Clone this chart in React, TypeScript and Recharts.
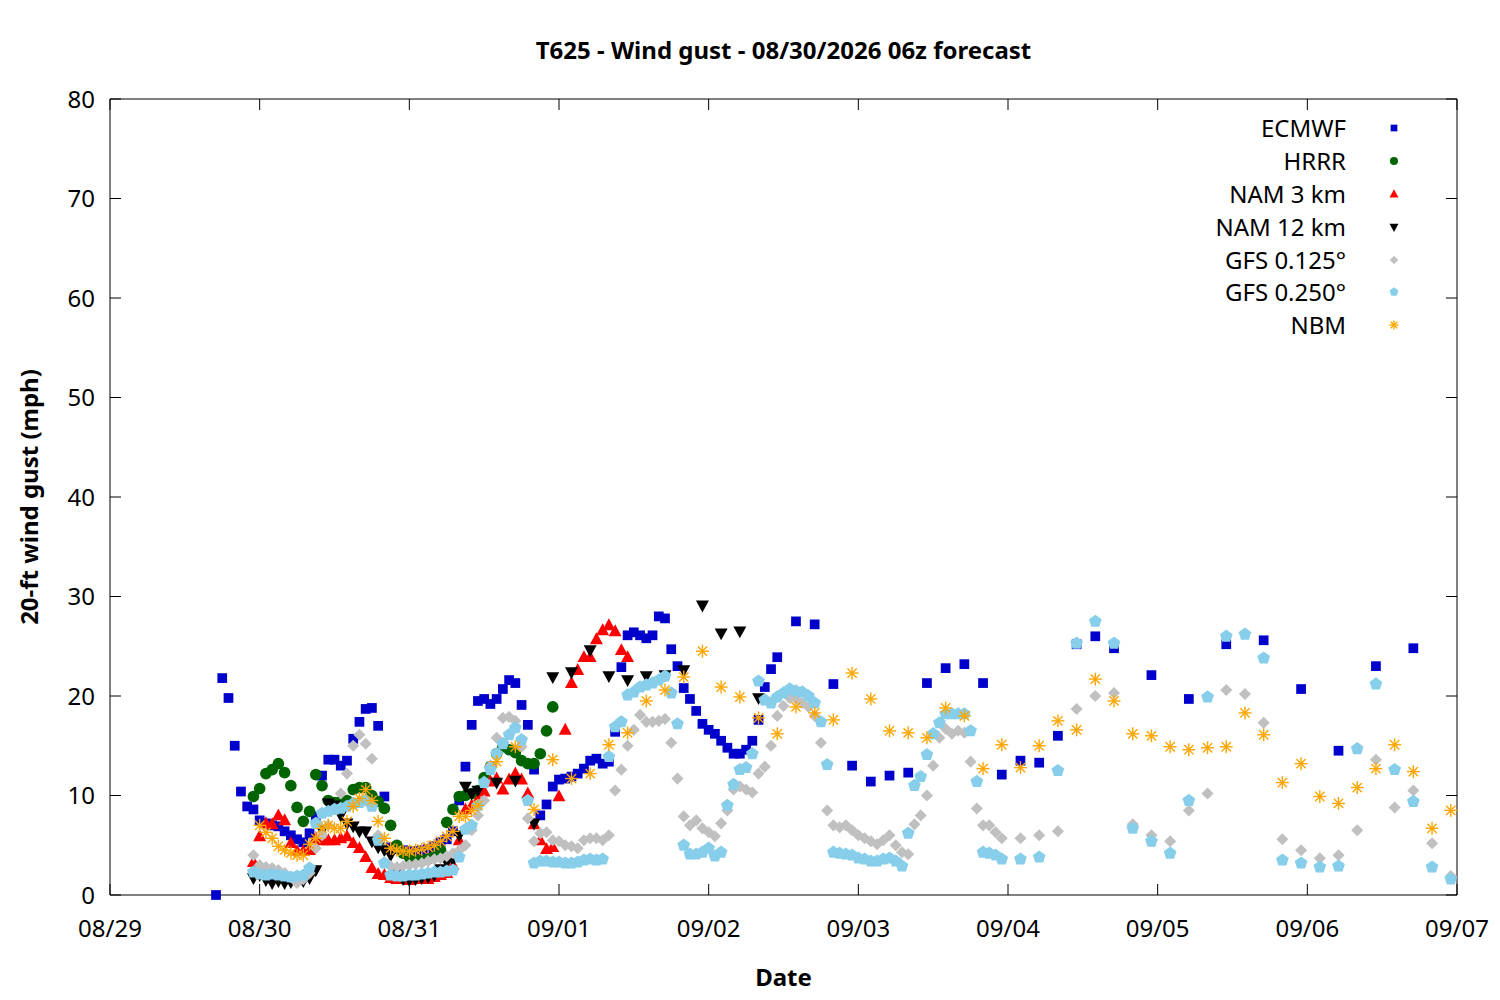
import { ScatterChart, Scatter, XAxis, YAxis, ReferenceLine } from 'recharts';

// hours are counted from 08/29 00z; each block is [first hour, step, values]
const dayLabels = ['08/29', '08/30', '08/31', '09/01', '09/02', '09/03', '09/04', '09/05', '09/06', '09/07'];
const dayTicks = [0, 24, 48, 72, 96, 120, 144, 168, 192, 216];
const gustTicks = [0, 10, 20, 30, 40, 50, 60, 70, 80];

const ecmwfHourly = [
  0, 21.8, 19.8, 15.0, 10.4, 8.9, 8.6, 7.5, 7.2, 7.0, 6.9, 6.4, 6.0, 5.6, 5.3, 6.2, 7.9, 12.0, 13.6, 13.6,
  13.0, 13.5, 15.7, 17.4, 18.7, 18.8, 17.0, 9.9, 4.8, 4.6, 4.5, 4.4, 4.4, 4.5, 4.6, 4.9, 5.3, 5.6, 6.4, 9.5,
  12.9, 17.1, 19.5, 19.7, 19.2, 19.7, 20.7, 21.6, 21.3, 19.1, 17.1, 12.6, 8.0, 9.1, 10.9, 11.6, 11.7, 11.9, 12.2, 12.7,
  13.5, 13.7, 13.2, 13.4, 16.4, 22.9, 26.1, 26.4, 26.1, 25.8, 26.1, 28.0, 27.8, 24.7, 23.0, 20.8, 19.7, 18.5, 17.2, 16.6,
  16.2, 15.5, 14.8, 14.2, 14.2, 14.6, 15.5, 17.6, 20.9, 22.7, 23.9,
];
const ecmwf3h = [27.5, 27.2, 21.2, 13.0, 11.4, 12.0, 12.3, 21.3, 22.8, 23.2, 21.3, 12.1, 13.5, 13.3, 16.0, 25.2, 26.0, 24.8];
const ecmwf6h = [22.1, 19.7, 25.2, 25.6, 20.7, 14.5, 23.0, 24.8];

const hrrrHourly = [
  9.9, 10.7, 12.2, 12.6, 13.2, 12.3, 11.0, 8.8, 7.4, 8.4, 12.1, 11.0, 9.5, 9.3, 9.4, 9.5, 10.6, 10.8, 10.8, 10.0,
  9.4, 8.7, 7.0, 5.0, 4.2, 3.8, 3.5, 3.5, 3.6, 3.9, 4.5, 7.3, 8.6, 9.9, 10.0, 10.2, 10.5, 11.8, 12.9, 14.2,
  14.9, 14.6, 14.3, 13.5, 13.2, 13.2, 14.2, 16.5, 18.9,
];

const nam3Hourly = [
  3.3, 5.9, 7.2, 7.1, 8.0, 7.5, 5.2, 4.4, 4.4, 4.5, 5.7, 5.5, 5.5, 5.5, 5.7, 5.9, 5.2, 4.7, 3.8, 2.7,
  2.1, 2.0, 1.7, 1.6, 1.6, 1.5, 1.6, 1.7, 1.6, 1.8, 2.0, 2.2, 3.0, 5.5, 8.6, 9.0, 9.6, 10.4, 11.4, 11.7,
  10.6, 11.6, 12.2, 11.6, 10.2, 7.1, 5.5, 4.6, 4.8, 9.9, 16.6, 21.3, 22.6, 23.9, 23.9, 25.7, 26.6, 27.1, 26.5, 24.6,
  23.9,
];

const nam12Hourly = [
  1.7, 2.0, 1.5, 1.2, 1.4, 1.2, 1.3, 1.5, 1.4, 1.7, 2.5, 6.5, 9.2, 9.0, 8.0, 7.2, 6.9, 6.4, 6.4, 5.4,
  4.8, 4.5, 4.0, 2.5, 1.6, 1.5, 1.6, 1.7, 1.8, 2.0, 2.6, 3.3, 3.5, 6.0, 10.9, 10.2, 10.5,
];
const nam12_3h = [11.3, 11.5, 7.2, 21.9, 22.4, 24.6, 22.0, 21.6, 22.0, 22.1, 22.6, 29.1, 26.3, 26.5, 19.8];

const gfs125Hourly = [
  4.0, 3.0, 2.8, 2.7, 2.5, 2.2, 1.8, 1.2, 1.6, 2.2, 4.7, 6.0, 7.0, 8.6, 10.2, 12.2, 15.0, 16.1, 15.2, 13.7,
  6.0, 3.3, 2.9, 2.8, 2.9, 3.0, 3.1, 3.2, 3.4, 3.6, 3.7, 3.9, 4.2, 4.5, 5.0, 6.5, 8.0, 9.5, 13.0, 15.8,
  17.8, 17.9, 17.5, 14.9, 7.7, 5.4, 6.2, 6.3, 5.5, 5.4, 5.0, 4.9, 4.7, 5.5, 5.7, 5.7, 5.5, 6.0, 10.5, 12.6,
  15.0, 16.6, 18.1, 17.4, 17.4, 17.5, 17.7, 15.3, 11.7, 7.9, 7.0, 7.5, 6.7, 6.3, 5.9, 7.2, 8.5, 10.6, 10.9, 10.6,
  10.3, 12.2, 12.9, 15.0, 18.0, 19.0, 19.8, 19.7, 19.3, 18.9, 18.0, 15.3, 8.5, 7.0, 6.8, 7.0, 6.5, 6.0, 5.7, 5.4,
  5.1, 5.5, 6.0, 5.0, 4.3, 4.1, 7.1, 8.0, 10.0, 13.0, 15.8, 16.7, 16.2, 16.5, 16.3, 13.4, 8.7, 7.0, 7.0, 6.3,
  5.7,
];
const gfs125_3h = [
  5.7, 6.0, 6.4, 18.7, 20.0, 20.3, 7.1, 6.0, 5.4, 8.5, 10.2, 20.6, 20.2, 17.3, 5.6, 4.5, 3.7, 4.0, 6.5, 13.6,
  8.8, 10.5, 5.2, 1.9,
];

const gfs250Hourly = [
  2.3, 2.1, 2.0, 2.1, 2.0, 1.9, 1.8, 1.9, 2.0, 2.7, 7.2, 8.2, 8.4, 8.6, 8.7, 8.9, 9.2, 9.3, 9.5, 8.9,
  5.5, 3.2, 2.0, 1.9, 1.9, 2.0, 2.0, 2.1, 2.2, 2.3, 2.3, 2.4, 2.5, 3.8, 6.6, 7.0, 9.0, 11.3, 12.6, 14.2,
  15.2, 16.1, 16.8, 15.6, 9.5, 3.2, 3.4, 3.4, 3.3, 3.3, 3.2, 3.2, 3.3, 3.5, 3.6, 3.5, 3.6, 13.9, 16.9, 17.4,
  20.1, 20.4, 20.9, 21.1, 21.3, 21.6, 22.0, 20.3, 17.2, 5.0, 4.1, 4.1, 4.3, 4.7, 3.9, 4.3, 9.0, 11.1, 12.6, 12.8,
  14.2, 21.5, 19.6, 19.3, 19.9, 20.3, 20.7, 20.5, 20.4, 20.0, 19.3, 17.4, 13.1, 4.3, 4.2, 4.1, 4.0, 3.7, 3.6, 3.4,
  3.4, 3.6, 3.7, 3.4, 2.9, 6.2, 11.0, 11.9, 14.1, 16.2, 17.3, 18.2, 18.2, 18.2, 18.2, 16.5, 11.4, 4.3, 4.2, 4.0,
  3.6,
];
const gfs250_3h = [
  3.6, 3.8, 12.5, 25.3, 27.5, 25.3, 6.7, 5.4, 4.2, 9.5, 19.9, 26.0, 26.2, 23.8, 3.5, 3.2, 2.8, 2.9, 14.7, 21.2,
  12.6, 9.4, 2.8, 1.6,
];

const nbmHourly = [
  7.0, 6.3, 5.7, 4.9, 4.5, 4.2, 4.0, 4.0, 5.1, 5.7, 6.7, 7.0, 6.7, 6.7, 7.4, 8.9, 9.7, 10.6, 9.5, 7.4,
  5.7, 4.7, 4.5, 4.4, 4.4, 4.5, 4.6, 4.8, 5.0, 5.4, 5.9, 6.4, 7.9, 7.9, 8.5,
];
const nbm3h = [
  9.0, 13.4, 14.9, 8.6, 13.6, 11.7, 12.2, 15.1, 16.3, 19.5, 20.6, 21.9, 24.5, 20.9, 19.9, 17.8, 16.2, 18.9, 18.3, 17.6,
  22.3, 19.7, 16.5, 16.3, 15.8, 18.8, 18.0, 12.7, 15.1, 12.8, 15.0, 17.5, 16.6, 21.7, 19.5, 16.2, 16.0, 14.9, 14.6, 14.8,
  14.9, 18.3, 16.1, 11.3, 13.2, 9.9, 9.2, 10.8, 12.7, 15.1, 12.4, 6.7, 8.5,
];

type Pt = { h: number; v: number };
const block = (start: number, step: number, values: number[]): Pt[] =>
  values.map((v, i) => ({ h: start + i * step, v }));

const ecmwfData = [...block(17, 1, ecmwfHourly), ...block(110, 3, ecmwf3h), ...block(167, 6, ecmwf6h)];
const hrrrData = block(23, 1, hrrrHourly);
const nam3Data = block(23, 1, nam3Hourly);
const nam12Data = [...block(23, 1, nam12Hourly), ...block(62, 3, nam12_3h)];
const gfs125Data = [...block(23, 1, gfs125Hourly), ...block(146, 3, gfs125_3h)];
const gfs250Data = [...block(23, 1, gfs250Hourly), ...block(146, 3, gfs250_3h)];
const nbmData = [...block(24, 1, nbmHourly), ...block(59, 3, nbm3h)];

const FONT = '"Noto Sans", sans-serif';
const FS = 24;
const PLOT = { left: 110, right: 1457, top: 99, bottom: 895 };
const TICK = 11;

// marker drawers, sized for the plot (k ~ 1) or the legend (k < 1)
type MarkFn = (cx: number, cy: number, color: string, k: number) => JSX.Element;
const square: MarkFn = (cx, cy, c, k) => <rect x={cx - 4.5 * k} y={cy - 4.5 * k} width={9 * k} height={9 * k} fill={c} />;
const dot: MarkFn = (cx, cy, c, k) => <circle cx={cx} cy={cy} r={5.4 * k} fill={c} />;
const triUp: MarkFn = (cx, cy, c, k) => (
  <polygon points={`${cx},${cy - 6.5 * k} ${cx + 6 * k},${cy + 4.5 * k} ${cx - 6 * k},${cy + 4.5 * k}`} fill={c} />
);
const triDown: MarkFn = (cx, cy, c, k) => (
  <polygon points={`${cx - 6 * k},${cy - 4.5 * k} ${cx + 6 * k},${cy - 4.5 * k} ${cx},${cy + 6.5 * k}`} fill={c} />
);
const diamond: MarkFn = (cx, cy, c, k) => (
  <polygon points={`${cx},${cy - 5.6 * k} ${cx + 5.6 * k},${cy} ${cx},${cy + 5.6 * k} ${cx - 5.6 * k},${cy}`} fill={c} />
);
const pentagon: MarkFn = (cx, cy, c, k) => {
  const pts = [0, 1, 2, 3, 4]
    .map(i => {
      const a = -Math.PI / 2 + (i * 2 * Math.PI) / 5;
      return `${cx + 6.2 * k * Math.cos(a)},${cy + 6.2 * k * Math.sin(a)}`;
    })
    .join(' ');
  return <polygon points={pts} fill={c} />;
};
const asterisk: MarkFn = (cx, cy, c, k) => {
  const r = 6 * k;
  const d = 4.3 * k;
  return (
    <g stroke={c} strokeWidth={1.4}>
      <line x1={cx - r} y1={cy} x2={cx + r} y2={cy} />
      <line x1={cx} y1={cy - r} x2={cx} y2={cy + r} />
      <line x1={cx - d} y1={cy - d} x2={cx + d} y2={cy + d} />
      <line x1={cx - d} y1={cy + d} x2={cx + d} y2={cy - d} />
    </g>
  );
};

const series = [
  { name: 'ECMWF', data: ecmwfData, color: '#0000cc', mark: square },
  { name: 'HRRR', data: hrrrData, color: '#006400', mark: dot },
  { name: 'NAM 3 km', data: nam3Data, color: '#ff0000', mark: triUp },
  { name: 'NAM 12 km', data: nam12Data, color: '#000000', mark: triDown },
  { name: 'GFS 0.125°', data: gfs125Data, color: '#c0c0c0', mark: diamond },
  { name: 'GFS 0.250°', data: gfs250Data, color: '#87ceeb', mark: pentagon },
  { name: 'NBM', data: nbmData, color: '#ffa500', mark: asterisk },
];

// gnuplot style: ticks point inward and are mirrored on the opposite side
const DayTick = (props: any) => {
  const { x, payload } = props;
  const i = dayTicks.indexOf(payload.value);
  return (
    <g>
      <line x1={x} y1={PLOT.bottom} x2={x} y2={PLOT.bottom - TICK} stroke="#000" />
      <line x1={x} y1={PLOT.top} x2={x} y2={PLOT.top + TICK} stroke="#000" />
      <text x={x} y={PLOT.bottom + 42} textAnchor="middle" fontSize={FS} fontFamily={FONT} fill="#000">
        {dayLabels[i]}
      </text>
    </g>
  );
};

const GustTick = (props: any) => {
  const { y, payload } = props;
  return (
    <g>
      <line x1={PLOT.left} y1={y} x2={PLOT.left + TICK} y2={y} stroke="#000" />
      <line x1={PLOT.right} y1={y} x2={PLOT.right - TICK} y2={y} stroke="#000" />
      <text x={PLOT.left - 15} y={y + 8.5} textAnchor="end" fontSize={FS} fontFamily={FONT} fill="#000">
        {payload.value}
      </text>
    </g>
  );
};

const XTitle = () => (
  <text x={(PLOT.left + PLOT.right) / 2} y={986} textAnchor="middle" fontSize={FS} fontWeight="bold" fontFamily={FONT}>
    Date
  </text>
);

const YTitle = () => (
  <text
    x={38}
    y={497}
    transform="rotate(-90 38 497)"
    textAnchor="middle"
    fontSize={FS}
    fontWeight="bold"
    fontFamily={FONT}
  >
    20-ft wind gust (mph)
  </text>
);

export default function App() {
  return (
    <div style={{ position: 'absolute', left: 0, top: 0, width: 1500, height: 1000, background: '#fff', fontFamily: FONT }}>
      <div
        style={{
          position: 'absolute',
          top: 33,
          left: 0,
          width: PLOT.left + PLOT.right,
          textAlign: 'center',
          fontSize: FS,
          fontWeight: 'bold',
          lineHeight: '34px',
        }}
      >
        T625 - Wind gust - 08/30/2026 06z forecast
      </div>
      <ScatterChart width={1500} height={1000} margin={{ top: 99, right: 43, bottom: 75, left: 50 }}>
        <XAxis
          xAxisId="t"
          type="number"
          dataKey="h"
          domain={[0, 216]}
          ticks={dayTicks}
          height={30}
          tickSize={0}
          tickMargin={0}
          tickLine={false}
          tick={<DayTick />}
          stroke="#000"
          label={<XTitle />}
          interval={0}
        />
        <YAxis
          yAxisId="g"
          type="number"
          dataKey="v"
          domain={[0, 80]}
          ticks={gustTicks}
          width={60}
          tickSize={0}
          tickMargin={0}
          tickLine={false}
          tick={<GustTick />}
          stroke="#000"
          label={<YTitle />}
          interval={0}
        />
        <ReferenceLine xAxisId="t" yAxisId="g" y={80} stroke="#000" />
        <ReferenceLine xAxisId="t" yAxisId="g" x={216} stroke="#000" />
        {series.map(s => (
          <Scatter
            key={s.name}
            name={s.name}
            xAxisId="t"
            yAxisId="g"
            data={s.data}
            fill={s.color}
            isAnimationActive={false}
            shape={(p: any) => s.mark(p.cx, p.cy, s.color, 1.08)}
          />
        ))}
      </ScatterChart>
      <div style={{ position: 'absolute', left: 1100, top: 112, width: 310 }}>
        {series.map(s => (
          <div key={s.name} style={{ display: 'flex', alignItems: 'center', height: 32.8 }}>
            <div style={{ width: 246, textAlign: 'right', fontSize: FS, lineHeight: '32px' }}>{s.name}</div>
            <svg width={64} height={32} style={{ display: 'block' }}>
              {s.mark(48, 16, s.color, 0.75)}
            </svg>
          </div>
        ))}
      </div>
    </div>
  );
}
